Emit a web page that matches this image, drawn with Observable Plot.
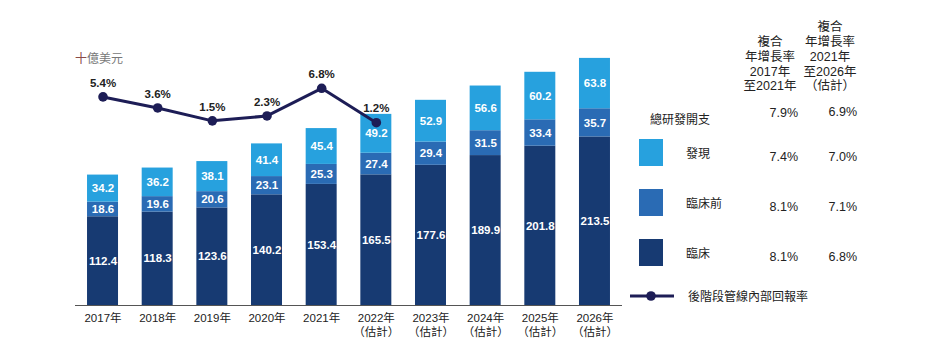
<!DOCTYPE html>
<html>
<head>
<meta charset="utf-8">
<script src="https://cdn.jsdelivr.net/npm/d3@7"></script>
<script src="https://cdn.jsdelivr.net/npm/@observablehq/plot@0.6"></script>
<style>
  body { margin: 0; background: #fff; }
  #wrap { position: relative; width: 932px; height: 357px; font-family: "Liberation Sans", "Noto Sans CJK TC", sans-serif; color: #222; }
  #wrap svg { position: absolute; left: 0; top: 0; }
  .abs { position: absolute; white-space: nowrap; }
  .unit { left: 75px; top: 49px; font-size: 12px; color: #777; }
  .hdr { font-size: 12.5px; line-height: 14.7px; text-align: center; color: #222; }
  .lbl { font-size: 12px; color: #222; }
  .val { font-size: 12.5px; color: #222; text-align: right; width: 50px; }
  .sw { width: 24px; height: 27px; }
</style>
</head>
<body>
<div id="wrap"></div>
<script>
// ---- data ----
const years = ["2017", "2018", "2019", "2020", "2021", "2022", "2023", "2024", "2025", "2026"];
const tickLabels = ["2017年", "2018年", "2019年", "2020年", "2021年",
  "2022年\n（估計）", "2023年\n（估計）", "2024年\n（估計）", "2025年\n（估計）", "2026年\n（估計）"];
const clinical    = [112.4, 118.3, 123.6, 140.2, 153.4, 165.5, 177.6, 189.9, 201.8, 213.5];
const preclinical = [18.6, 19.6, 20.6, 23.1, 25.3, 27.4, 29.4, 31.5, 33.4, 35.7];
const discovery   = [34.2, 36.2, 38.1, 41.4, 45.4, 49.2, 52.9, 56.6, 60.2, 63.8];
const lateStageYears = ["2017", "2018", "2019", "2020", "2021", "2022"];
const lateStageIRR   = [5.4, 3.6, 1.5, 2.3, 6.8, 1.2];

const seriesNames = ["臨床", "臨床前", "發現"];
const seriesColors = ["#173a72", "#2a6bb4", "#27a1de"];
const lineColor = "#1d1d56";

const cagrHeaders = ["複合\n年增長率\n2017年\n至2021年", "複合\n年增長率\n2021年\n至2026年\n（估計）"];
const cagrTotal = ["7.9%", "6.9%"];
const cagrRows = [
  {name: "發現", a: "7.4%", b: "7.0%"},
  {name: "臨床前", a: "8.1%", b: "7.1%"},
  {name: "臨床", a: "8.1%", b: "6.8%"}
];
const totalLabel = "總研發開支";
const lineLabel = "後階段管線內部回報率";
const unitLabel = "十億美元";

// ---- build tables ----
const seriesArrays = [clinical, preclinical, discovery];
const bars = [];
seriesNames.forEach((s, si) => years.forEach((y, i) => bars.push({year: y, series: s, value: seriesArrays[si][i]})));
const lineData = lateStageYears.map((y, i) => ({year: y, rate: lateStageIRR[i]}));

// line placed on its own vertical mapping inside the bar scale
const lineOffset = 222.2, lineScale = 7.78;
const ly = d => lineOffset + d.rate * lineScale;
const labelOf = Object.fromEntries(years.map((y, i) => [y, tickLabels[i]]));

const chart = Plot.plot({
  width: 932,
  height: 357,
  marginLeft: 75,
  marginRight: 310,
  marginTop: 20,
  marginBottom: 52,
  style: {fontFamily: "'Liberation Sans', 'Noto Sans CJK TC', sans-serif", fontSize: "11px", color: "#222", background: "transparent"},
  x: {domain: years, paddingInner: 0.433, paddingOuter: 0.22, round: false, label: null},
  y: {domain: [0, 361], axis: null},
  color: {domain: seriesNames, range: seriesColors},
  marks: [
    Plot.axisX({tickSize: 0, tickPadding: 7, tickFormat: y => labelOf[y], lineHeight: 1.2, fontSize: 11.5, fill: "#222", label: null}),
    Plot.barY(bars, Plot.stackY({x: "year", y: "value", fill: "series", order: null})),
    Plot.text(bars, Plot.stackY({x: "year", y: "value", z: "series", order: null, text: d => d.value.toFixed(1), fill: "white", fontWeight: "bold", fontSize: 11.5})),
    Plot.ruleY([0], {stroke: "#555", strokeWidth: 1.2}),
    Plot.line(lineData, {x: "year", y: ly, stroke: lineColor, strokeWidth: 3}),
    Plot.dot(lineData, {x: "year", y: ly, r: 4.8, fill: lineColor, stroke: "none"}),
    Plot.text(lineData, {x: "year", y: ly, text: d => d.rate.toFixed(1) + "%", dy: -14, fontWeight: "bold", fontSize: 11.5, fill: "#222"})
  ]
});

const wrap = document.getElementById("wrap");
wrap.appendChild(chart);

function add(cls, html, style) {
  const el = document.createElement("div");
  el.className = "abs " + cls;
  el.innerHTML = html;
  Object.assign(el.style, style);
  wrap.appendChild(el);
  return el;
}
add("unit", '<span style="color:#8a4b47">' + unitLabel[0] + '</span>' + unitLabel.slice(1), {});
// headers (bottom aligned)
add("hdr", cagrHeaders[0].replace(/\n/g, "<br>"), {left: "738px", width: "64px", bottom: (357 - 94) + "px"});
add("hdr", cagrHeaders[1].replace(/\n/g, "<br>"), {left: "798px", width: "64px", bottom: (357 - 94) + "px"});
add("lbl", totalLabel, {left: "650px", top: "110px"});
add("val", cagrTotal[0], {left: "748px", top: "106px"});
add("val", cagrTotal[1], {left: "807px", top: "105px"});
const swTop = [139, 189, 239];
const rowColors = [seriesColors[2], seriesColors[1], seriesColors[0]];
cagrRows.forEach((r, i) => {
  add("sw", "", {left: "639px", top: swTop[i] + "px", background: rowColors[i]});
  add("lbl", r.name, {left: "686px", top: (swTop[i] + 5) + "px"});
  add("val", r.a, {left: "748px", top: (swTop[i] + 11) + "px"});
  add("val", r.b, {left: "807px", top: (swTop[i] + 11) + "px"});
});
// line legend
add("", '<svg width="46" height="12"><line x1="1" y1="6" x2="45" y2="6" stroke="' + lineColor + '" stroke-width="3"/><circle cx="22" cy="6" r="4.8" fill="' + lineColor + '"/></svg>', {left: "629px", top: "290px"});
add("lbl", lineLabel, {left: "688px", top: "287px"});
</script>
</body>
</html>
